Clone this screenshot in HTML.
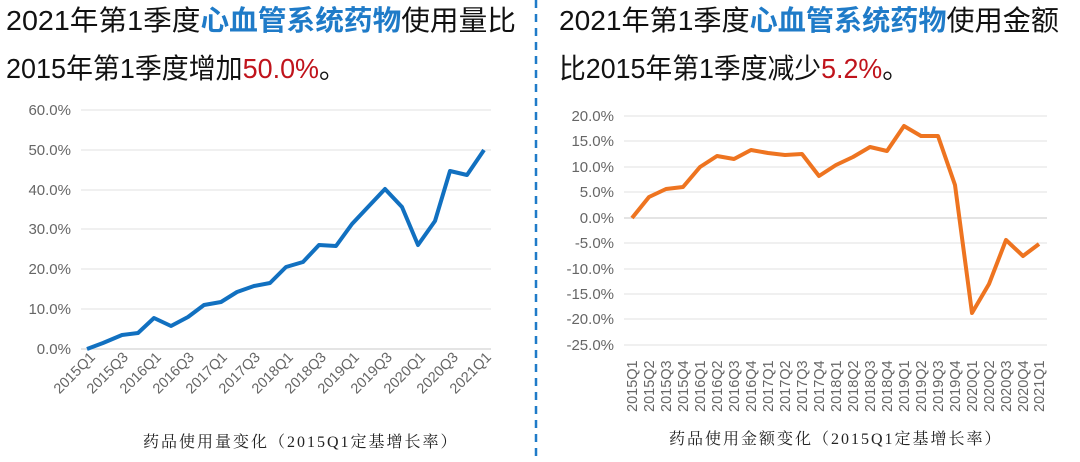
<!DOCTYPE html>
<html><head><meta charset="utf-8"><style>
html,body{margin:0;padding:0;background:#fff;}
svg{display:block;}
</style></head><body>
<svg width="1080" height="462" xmlns="http://www.w3.org/2000/svg" font-family="Liberation Sans, Noto Sans CJK SC, sans-serif">
<rect width="1080" height="462" fill="#fff"/>
<g font-size="28" fill="#111">
<text x="6" y="30" textLength="510" lengthAdjust="spacingAndGlyphs">2021年第1季度<tspan fill="#1f7bc8" font-weight="bold">心血管系统药物</tspan>使用量比</text>
<text x="6" y="78" textLength="340" lengthAdjust="spacingAndGlyphs">2015年第1季度增加<tspan fill="#c0141c">50.0%</tspan>。</text>
<text x="559" y="30" textLength="500" lengthAdjust="spacingAndGlyphs">2021年第1季度<tspan fill="#1f7bc8" font-weight="bold">心血管系统药物</tspan>使用金额</text>
<text x="559" y="78" textLength="350" lengthAdjust="spacingAndGlyphs">比2015年第1季度减少<tspan fill="#c0141c">5.2%</tspan>。</text>
</g>
<line x1="536" y1="0" x2="536" y2="462" stroke="#1f7bc8" stroke-width="2.5" stroke-dasharray="8,6"/>
<!-- left chart -->
<g stroke="#e6e6e6" stroke-width="1.2">
<line x1="81" x2="491" y1="110" y2="110"/><line x1="81" x2="491" y1="150" y2="150"/><line x1="81" x2="491" y1="190" y2="190"/><line x1="81" x2="491" y1="229" y2="229"/><line x1="81" x2="491" y1="269" y2="269"/><line x1="81" x2="491" y1="309" y2="309"/><line x1="81" x2="491" y1="349" y2="349" stroke="#d4d4d4"/>
</g>
<g font-size="15" fill="#666" text-anchor="end">
<text x="71" y="115">60.0%</text><text x="71" y="155">50.0%</text><text x="71" y="195">40.0%</text><text x="71" y="234">30.0%</text><text x="71" y="274">20.0%</text><text x="71" y="314">10.0%</text><text x="71" y="354">0.0%</text>
</g>
<polyline fill="none" stroke="#1170c0" stroke-width="4" stroke-linejoin="round" points="87,349 103,343 122,335 138,333 154,318 171,326 188,317 204,305 221,302 237,292 254,286 270,283 286,267 303,262 319,245 336,246 352,224 368,207 385,189 402,207 418,245 435,221 450,171 467,175 484,150"/>
<g font-size="14.5" fill="#666" text-anchor="end">
<text transform="translate(96,358) rotate(-45)">2015Q1</text>
<text transform="translate(129,358) rotate(-45)">2015Q3</text>
<text transform="translate(162,358) rotate(-45)">2016Q1</text>
<text transform="translate(195,358) rotate(-45)">2016Q3</text>
<text transform="translate(228,358) rotate(-45)">2017Q1</text>
<text transform="translate(261,358) rotate(-45)">2017Q3</text>
<text transform="translate(294,358) rotate(-45)">2018Q1</text>
<text transform="translate(327,358) rotate(-45)">2018Q3</text>
<text transform="translate(360,358) rotate(-45)">2019Q1</text>
<text transform="translate(393,358) rotate(-45)">2019Q3</text>
<text transform="translate(426,358) rotate(-45)">2020Q1</text>
<text transform="translate(459,358) rotate(-45)">2020Q3</text>
<text transform="translate(492,358) rotate(-45)">2021Q1</text>
</g>
<text x="143" y="447" font-size="16" fill="#222" font-family="Liberation Serif, Noto Serif CJK SC, serif" letter-spacing="2">药品使用量变化（2015Q1定基增长率）</text>
<!-- right chart -->
<g stroke="#e6e6e6" stroke-width="1.2">
<line x1="624" x2="1047" y1="116" y2="116"/><line x1="624" x2="1047" y1="141" y2="141"/><line x1="624" x2="1047" y1="167" y2="167"/><line x1="624" x2="1047" y1="192" y2="192"/><line x1="624" x2="1047" y1="218" y2="218" stroke="#d4d4d4"/><line x1="624" x2="1047" y1="243" y2="243"/><line x1="624" x2="1047" y1="269" y2="269"/><line x1="624" x2="1047" y1="294" y2="294"/><line x1="624" x2="1047" y1="319" y2="319"/><line x1="624" x2="1047" y1="345" y2="345"/>
</g>
<g font-size="15" fill="#666" text-anchor="end">
<text x="614" y="121">20.0%</text><text x="614" y="146">15.0%</text><text x="614" y="172">10.0%</text><text x="614" y="197">5.0%</text><text x="614" y="223">0.0%</text><text x="614" y="248">-5.0%</text><text x="614" y="274">-10.0%</text><text x="614" y="299">-15.0%</text><text x="614" y="324">-20.0%</text><text x="614" y="350">-25.0%</text>
</g>
<polyline fill="none" stroke="#ee7420" stroke-width="4" stroke-linejoin="round" points="632,218 649,197 666,189 683,187 700,167 717,156 734,159 751,150 768,153 785,155 802,154 819,176 836,165 853,157 870,147 887,151 904,126 921,136 938,136 955,185 972,313 989,284 1006,240 1023,256 1039,244"/>
<g font-size="14.5" fill="#666">
<text transform="translate(637,412) rotate(-90)">2015Q1</text>
<text transform="translate(654,412) rotate(-90)">2015Q2</text>
<text transform="translate(671,412) rotate(-90)">2015Q3</text>
<text transform="translate(688,412) rotate(-90)">2015Q4</text>
<text transform="translate(705,412) rotate(-90)">2016Q1</text>
<text transform="translate(722,412) rotate(-90)">2016Q2</text>
<text transform="translate(739,412) rotate(-90)">2016Q3</text>
<text transform="translate(756,412) rotate(-90)">2016Q4</text>
<text transform="translate(773,412) rotate(-90)">2017Q1</text>
<text transform="translate(790,412) rotate(-90)">2017Q2</text>
<text transform="translate(807,412) rotate(-90)">2017Q3</text>
<text transform="translate(824,412) rotate(-90)">2017Q4</text>
<text transform="translate(841,412) rotate(-90)">2018Q1</text>
<text transform="translate(858,412) rotate(-90)">2018Q2</text>
<text transform="translate(875,412) rotate(-90)">2018Q3</text>
<text transform="translate(892,412) rotate(-90)">2018Q4</text>
<text transform="translate(909,412) rotate(-90)">2019Q1</text>
<text transform="translate(926,412) rotate(-90)">2019Q2</text>
<text transform="translate(943,412) rotate(-90)">2019Q3</text>
<text transform="translate(960,412) rotate(-90)">2019Q4</text>
<text transform="translate(977,412) rotate(-90)">2020Q1</text>
<text transform="translate(994,412) rotate(-90)">2020Q2</text>
<text transform="translate(1011,412) rotate(-90)">2020Q3</text>
<text transform="translate(1028,412) rotate(-90)">2020Q4</text>
<text transform="translate(1044,412) rotate(-90)">2021Q1</text>
</g>
<text x="669" y="444" font-size="16" fill="#222" font-family="Liberation Serif, Noto Serif CJK SC, serif" letter-spacing="2">药品使用金额变化（2015Q1定基增长率）</text>
</svg>
</body></html>
